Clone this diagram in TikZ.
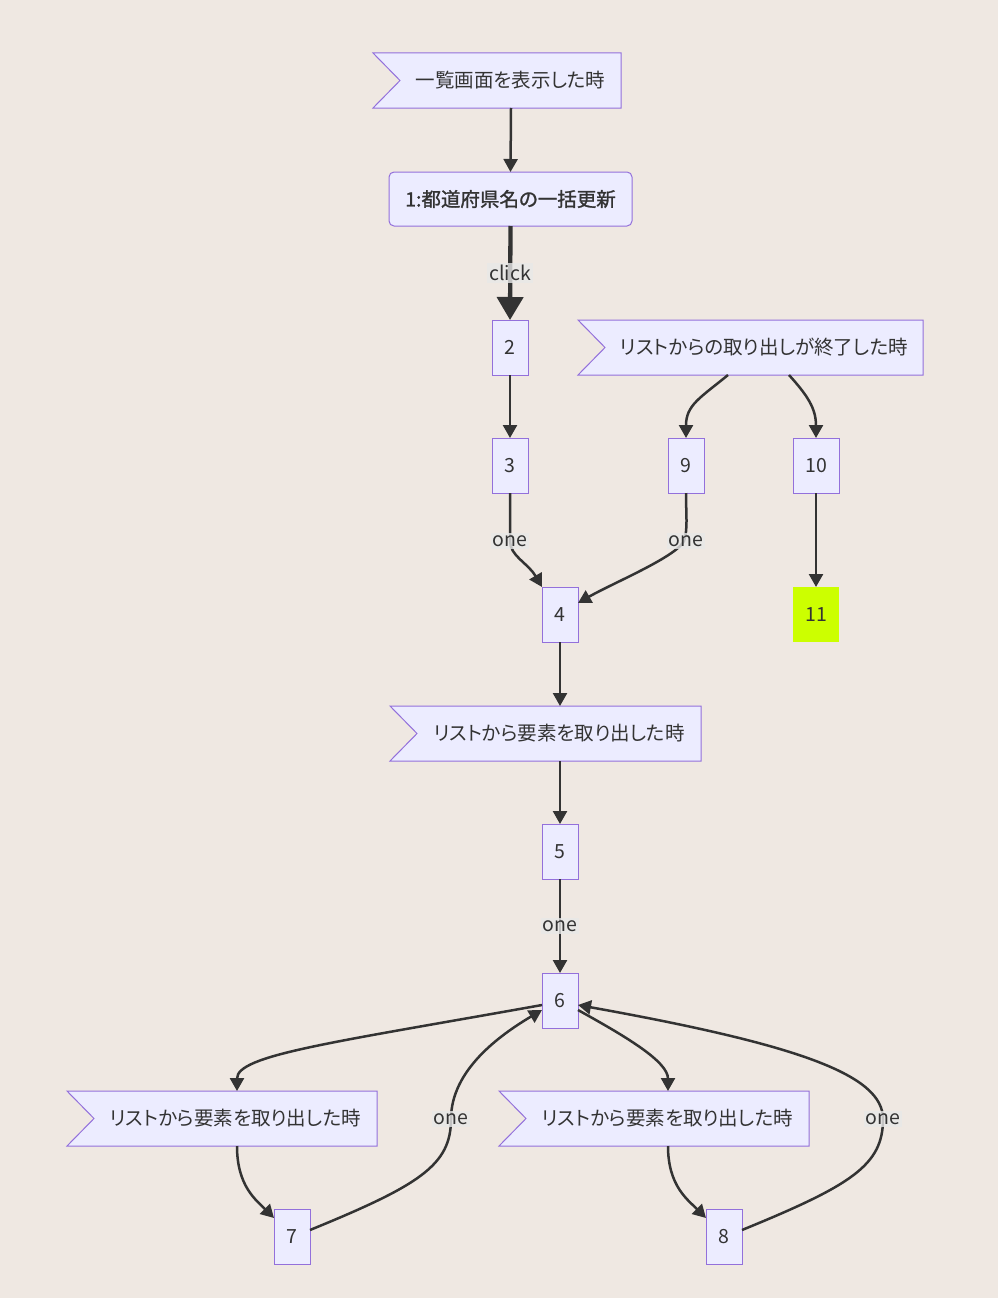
\documentclass[tikz,border=0pt]{standalone}
\usepackage{fontspec}
\setmainfont[RawFeature={+palt}]{Noto Sans CJK JP}
\newfontfamily\semibf[FakeBold=1.3,RawFeature={+palt}]{Noto Sans CJK JP}
\usetikzlibrary{arrows.meta,calc}
\definecolor{bg}{HTML}{EFE8E2}
\definecolor{nodefill}{HTML}{ECECFF}
\definecolor{nodeline}{HTML}{9370DB}
\definecolor{ink}{HTML}{333333}
\definecolor{lblbg}{HTML}{E8E8E8}
\definecolor{lime}{HTML}{CCFF00}
\newcommand\drawflag[1]{\filldraw[flagline] (#1.north west) -- (#1.north east) -- (#1.south east) -- (#1.south west) -- ([xshift=27pt]#1.west) -- cycle;}
\tikzset{
  box/.style={draw=nodeline, fill=nodefill, line width=1pt, minimum width=36pt, minimum height=55pt, inner sep=0pt, outer sep=0pt},
  flagbox/.style={minimum height=55pt, inner sep=0pt, outer sep=0pt},
  flagline/.style={draw=nodeline, fill=nodefill, line width=1pt},
  edge/.style={draw=ink, line width=2.5pt, -{Triangle[length=13pt,width=14pt]}},
  thickedge/.style={draw=ink, line width=4.3pt, -{Triangle[length=23pt,width=26pt]}},
  lbl/.style={fill=lblbg, fill opacity=0.8, text opacity=1, inner sep=2pt, text=ink},
  txt/.style={text=ink}
}
\begin{document}
\begin{tikzpicture}[x=1pt,y=1pt, font=\fontsize{19.5}{23}\selectfont]
\fill[bg] (0,0) rectangle (998,-1298);
\useasboundingbox (0,0) rectangle (998,-1298);

% flag nodes
\node[flagbox, minimum width=248pt] (A) at (497,-80.5) {};
\drawflag{A}
\node[txt] at ([xshift=13.5pt]A.center) {一覧画面を表示した時};

\node[flagbox, minimum width=345pt] (F2) at (750.5,-347.5) {};
\drawflag{F2}
\node[txt] at ([xshift=13.5pt]F2.center) {リストからの取り出しが終了した時};

\node[flagbox, minimum width=311pt] (F3) at (545.5,-733.5) {};
\drawflag{F3}
\node[txt] at ([xshift=13.5pt]F3.center) {リストから要素を取り出した時};

\node[flagbox, minimum width=310pt] (F4) at (222,-1118.5) {};
\drawflag{F4}
\node[txt] at ([xshift=13.5pt]F4.center) {リストから要素を取り出した時};

\node[flagbox, minimum width=310pt] (F5) at (654,-1118.5) {};
\drawflag{F5}
\node[txt] at ([xshift=13.5pt]F5.center) {リストから要素を取り出した時};

% boxes
\node[box, rounded corners=5pt, minimum width=243pt, minimum height=54pt, text=ink, font=\fontsize{19.5}{23}\semibf] (n1) at (510.5,-199) {1:都道府県名の一括更新};
\node[box, text=ink] (n2) at (510,-347.5) {2};
\node[box, text=ink] (n3) at (510,-465.5) {3};
\node[box, text=ink] (n9) at (686,-465.5) {9};
\node[box, text=ink, minimum width=46pt] (n10) at (816,-465.5) {10};
\node[box, text=ink, minimum width=46pt, fill=lime, draw=none] (n11) at (816,-614.5) {11};
\node[box, text=ink] (n4) at (560,-614.5) {4};
\node[box, text=ink] (n5) at (560,-851.5) {5};
\node[box, text=ink] (n6) at (560,-1000.5) {6};
\node[box, text=ink] (n7) at (292,-1236.5) {7};
\node[box, text=ink] (n8) at (724,-1236.5) {8};

% label coordinates
\coordinate (c34) at (510,-541);
\coordinate (c94) at (684,-541);
\coordinate (c76) at (451,-1119);
\coordinate (c86) at (883,-1119);

% edges
\draw[edge] ([xshift=14pt]A.south) -- (n1.north);
\draw[thickedge] (n1.south) -- (n2.north) node[midway, lbl] {click};
\draw[edge] (n2.south) -- (n3.north);
\draw[edge] ([xshift=-22.5pt]F2.south) .. controls +(-28,-23) and +(0,33) .. (n9.north);
\draw[edge] ([xshift=38.5pt]F2.south) .. controls +(18,-20) and +(0,30) .. (n10.north);
\draw[edge] (n3.south) .. controls +(0,-30) and +(0,15) .. (c34) .. controls +(0,-15) and +(-14,24) .. (n4.north west);
\draw[edge] (n9.south) .. controls +(0,-22) and +(4,12) .. (c94) .. controls +(-8,-16) and +(35,20) .. ([yshift=11.5pt]n4.east);
\draw[edge] (n10.south) -- (n11.north);
\draw[edge] (n4.south) -- ([xshift=14.5pt]F3.north);
\draw[edge] ([xshift=14.5pt]F3.south) -- (n5.north);
\draw[edge] (n5.south) -- (n6.north) node[midway, lbl] {one};
\draw[edge] ([yshift=-4.5pt]n6.west) .. controls (330,-1043) and (237,-1055) .. ([xshift=15pt]F4.north);
\draw[edge] ([yshift=6.5pt]n7.east) .. controls (420,-1185) and (451,-1165) .. (c76) .. controls (451,-1070) and (500,-1035) .. ([yshift=-9.5pt]n6.west);
\draw[edge] ([yshift=-9.5pt]n6.east) .. controls +(45,-25) and +(0,30) .. ([xshift=14pt]F5.north);
\draw[edge] ([yshift=6.5pt]n8.east) .. controls (852,-1185) and (883,-1165) .. (c86) .. controls (883,-1075) and (800,-1045) .. ([yshift=-4.5pt]n6.east);
\draw[edge] ([xshift=15pt]F4.south) .. controls +(0,-40) and +(-18,18) .. ([yshift=18.5pt]n7.west);
\draw[edge] ([xshift=14pt]F5.south) .. controls +(0,-40) and +(-18,18) .. ([yshift=18.5pt]n8.west);

% labels
\node[lbl] at (c34) {one};
\node[lbl] at (686,-541) {one};
\node[lbl] at (c76) {one};
\node[lbl] at (c86) {one};
\end{tikzpicture}
\end{document}
